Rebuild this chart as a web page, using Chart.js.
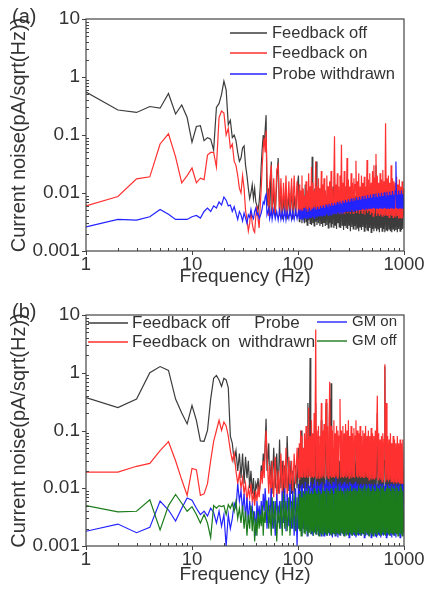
<!DOCTYPE html>
<html>
<head>
<meta charset="utf-8">
<script src="https://cdn.jsdelivr.net/npm/chart.js@4.4.1/dist/chart.umd.min.js"></script>
<style>
  body { margin: 0; background: #fff; }
  #wrap { position: relative; width: 426px; height: 596px; }
  #wrap canvas { position: absolute; left: 0; }
</style>
</head>
<body>
<div id="wrap">
  <canvas id="chart-a" width="426" height="296" style="top:0"></canvas>
  <canvas id="chart-b" width="426" height="300" style="top:296px"></canvas>
</div>
<script>
// frequency axis shared by both panels (Hz)
var freq = [
  1, 2, 3, 4, 5, 6, 7, 8, 9, 10,
  11, 12, 13, 14, 15, 16, 17, 18, 19, 20,
  21, 22, 23, 24, 25, 26, 27, 28, 29, 30,
  31, 32, 33, 34, 35, 36, 37, 38, 39, 40,
  41, 42, 43, 44, 45, 46, 47, 48, 49, 50,
  51, 53, 54, 56, 57, 59, 61, 63, 65, 67,
  69, 71, 73, 75, 77, 79, 82, 84, 87, 89,
  92, 95, 98,
  101, 103, 104, 106, 107, 109, 110, 112, 114, 115,
  117, 119, 121, 122, 124, 126, 128, 130, 132, 134,
  136, 138, 140, 142, 144, 147, 149, 151, 153, 156,
  158, 161, 163, 166, 168, 171, 173, 176, 179, 181,
  184, 187, 190, 193, 196, 199, 202, 205, 208, 211,
  214, 218, 221, 224, 228, 231, 235, 238, 242, 245,
  249, 253, 257, 261, 265, 269, 273, 277, 281, 285,
  290, 294, 299, 303, 308, 312, 317, 322, 327, 332,
  337, 342, 347, 352, 358, 363, 368, 374, 380, 385,
  391, 397, 403, 409, 415, 422, 428, 434, 441, 448,
  454, 461, 468, 475, 482, 490, 497, 505, 512, 520,
  528, 536, 544, 552, 560, 569, 577, 586, 595, 604,
  613, 622, 631, 641, 651, 660, 670, 681, 691, 701,
  712, 723, 733, 745, 756, 767, 779, 790, 802, 814,
  827, 839, 852, 865, 878, 891, 904, 918, 932, 946,
  960, 974, 989, 1000
];

var xTicks = [1, 10, 100, 1000];
var yTicks = [0.001, 0.01, 0.1, 1, 10];

// panel (a), pA/sqrt(Hz)
var offA = [
  0.55, 0.27, 0.245, 0.31, 0.29, 0.52, 0.23, 0.33, 0.2, 0.075,
  0.14, 0.145, 0.08, 0.09, 0.085, 0.055, 0.3, 0.35, 0.5, 0.85,
  0.6, 0.15, 0.18, 0.09, 0.1, 0.08, 0.05, 0.035, 0.04, 0.06,
  0.065, 0.03, 0.02, 0.012, 0.008, 0.01, 0.014, 0.008, 0.012, 0.007,
  0.006, 0.005, 0.007, 0.012, 0.03, 0.06, 0.1, 0.07, 0.12, 0.22,
  0.006, 0.012, 0.004, 0.035, 0.005, 0.01, 0.004, 0.015, 0.04, 0.004,
  0.012, 0.0035, 0.009, 0.004, 0.012, 0.0035, 0.01, 0.004, 0.013, 0.0035,
  0.009, 0.004, 0.012,
  0.02, 0.0032, 0.011, 0.004, 0.008, 0.003, 0.012, 0.0035, 0.009, 0.003,
  0.014, 0.0032, 0.007, 0.0028, 0.011, 0.0034, 0.009, 0.003, 0.013, 0.0028,
  0.042, 0.003, 0.01, 0.0027, 0.012, 0.0032, 0.035, 0.0028, 0.008, 0.003,
  0.012, 0.0027, 0.009, 0.003, 0.014, 0.0026, 0.008, 0.0031, 0.011, 0.0027,
  0.009, 0.0028, 0.013, 0.0025, 0.008, 0.003, 0.012, 0.0026, 0.01, 0.0029,
  0.013, 0.0025, 0.02, 0.0028, 0.009, 0.0024, 0.012, 0.003, 0.008, 0.0026,
  0.011, 0.0025, 0.018, 0.0028, 0.009, 0.0023, 0.013, 0.0027, 0.008, 0.0025,
  0.012, 0.0024, 0.01, 0.0028, 0.008, 0.0022, 0.013, 0.0026, 0.009, 0.0024,
  0.011, 0.0027, 0.009, 0.0023, 0.012, 0.0025, 0.008, 0.0022, 0.011, 0.0026,
  0.009, 0.0023, 0.012, 0.0026, 0.008, 0.0022, 0.011, 0.0025, 0.009, 0.0023,
  0.012, 0.0022, 0.009, 0.0025, 0.011, 0.0021, 0.008, 0.0024, 0.012, 0.0022,
  0.01, 0.0025, 0.03, 0.0022, 0.009, 0.0024, 0.012, 0.0021, 0.008, 0.0025,
  0.011, 0.0022, 0.009, 0.0024, 0.012, 0.0021, 0.014, 0.0023, 0.009, 0.0022,
  0.011, 0.0024, 0.008, 0.0022, 0.012, 0.0021, 0.009, 0.0024, 0.011, 0.0022,
  0.009, 0.0023, 0.012, 0.0021, 0.008, 0.0024, 0.011, 0.0022, 0.009, 0.0023,
  0.011, 0.0024, 0.009, 0.004
];
var onA = [
  0.006, 0.0087, 0.0175, 0.019, 0.07, 0.105, 0.042, 0.015, 0.02, 0.027,
  0.015, 0.018, 0.017, 0.045, 0.05, 0.05, 0.028, 0.2, 0.26, 0.24,
  0.1, 0.13, 0.06, 0.07, 0.035, 0.03, 0.02, 0.012, 0.01, 0.02,
  0.012, 0.005, 0.0035, 0.0022, 0.003, 0.005, 0.003, 0.0023, 0.0021, 0.004,
  0.006, 0.0035, 0.0025, 0.006, 0.012, 0.03, 0.06, 0.09, 0.05, 0.12,
  0.02, 0.004, 0.015, 0.03, 0.004, 0.018, 0.0045, 0.025, 0.03, 0.004,
  0.018, 0.004, 0.015, 0.0045, 0.02, 0.004, 0.016, 0.0045, 0.018, 0.004,
  0.02, 0.0045, 0.016,
  0.004, 0.014, 0.0045, 0.011, 0.005, 0.02, 0.0042, 0.012, 0.005, 0.009,
  0.0045, 0.016, 0.0048, 0.01, 0.0042, 0.022, 0.005, 0.013, 0.0045, 0.028,
  0.005, 0.015, 0.0045, 0.011, 0.005, 0.035, 0.0046, 0.013, 0.005, 0.018,
  0.0045, 0.012, 0.005, 0.024, 0.0044, 0.014, 0.005, 0.018, 0.0045, 0.011,
  0.005, 0.02, 0.0044, 0.013, 0.005, 0.016, 0.0045, 0.024, 0.005, 0.012,
  0.0045, 0.018, 0.095, 0.005, 0.014, 0.0044, 0.022, 0.005, 0.013, 0.0045,
  0.02, 0.005, 0.068, 0.0045, 0.015, 0.005, 0.024, 0.0044, 0.013, 0.005,
  0.04, 0.0045, 0.017, 0.005, 0.013, 0.0044, 0.022, 0.005, 0.015, 0.0045,
  0.018, 0.005, 0.014, 0.036, 0.0045, 0.016, 0.005, 0.022, 0.0044, 0.013,
  0.005, 0.02, 0.0045, 0.015, 0.005, 0.019, 0.0042, 0.013, 0.005, 0.037,
  0.0045, 0.017, 0.005, 0.022, 0.0042, 0.015, 0.0045, 0.024, 0.004, 0.03,
  0.0045, 0.018, 0.047, 0.004, 0.02, 0.0045, 0.015, 0.004, 0.022, 0.0042,
  0.017, 0.004, 0.025, 0.0042, 0.016, 0.004, 0.16, 0.0042, 0.018, 0.004,
  0.02, 0.0038, 0.015, 0.0042, 0.03, 0.004, 0.018, 0.0038, 0.016, 0.004,
  0.015, 0.0038, 0.019, 0.004, 0.014, 0.0036, 0.017, 0.0038, 0.013, 0.0036,
  0.016, 0.0037, 0.012, 0.006
];
var probeA = [
  0.0026, 0.0035, 0.0034, 0.0039, 0.0052, 0.0043, 0.0035, 0.0035, 0.0035, 0.0039,
  0.0041, 0.0037, 0.0048, 0.0055, 0.0048, 0.006, 0.0055, 0.007, 0.0062, 0.0085,
  0.0075, 0.006, 0.0062, 0.0048, 0.0058, 0.0045, 0.0035, 0.0048, 0.0042, 0.0033,
  0.0045, 0.0037, 0.003, 0.0042, 0.0038, 0.0052, 0.004, 0.0036, 0.0048, 0.0055,
  0.0042, 0.0045, 0.0036, 0.004, 0.0045, 0.0055, 0.007, 0.0065, 0.0085, 0.0095,
  0.0042, 0.0055, 0.0036, 0.005, 0.0035, 0.0052, 0.0036, 0.0048, 0.0034, 0.005,
  0.0035, 0.0048, 0.0035, 0.005, 0.0034, 0.0048, 0.0036, 0.005, 0.0035, 0.0048,
  0.0035, 0.005, 0.0036,
  0.0048, 0.0036, 0.0052, 0.004, 0.0046, 0.0035, 0.005, 0.0038, 0.0055, 0.0037,
  0.0049, 0.0036, 0.0053, 0.0039, 0.0047, 0.0036, 0.0056, 0.0038, 0.005, 0.0037,
  0.0054, 0.0039, 0.0049, 0.0037, 0.0057, 0.004, 0.0052, 0.0038, 0.0058, 0.004,
  0.0053, 0.0039, 0.006, 0.0041, 0.0055, 0.0039, 0.0062, 0.0042, 0.0056, 0.004,
  0.0063, 0.0043, 0.0058, 0.0041, 0.0065, 0.0043, 0.006, 0.0042, 0.0067, 0.0044,
  0.0061, 0.0043, 0.0068, 0.0045, 0.0063, 0.0043, 0.007, 0.0046, 0.0064, 0.0045,
  0.0072, 0.0046, 0.0066, 0.0045, 0.0074, 0.0047, 0.0068, 0.0046, 0.0076, 0.0048,
  0.0069, 0.0047, 0.0078, 0.0049, 0.0071, 0.0047, 0.008, 0.005, 0.0073, 0.0048,
  0.0082, 0.005, 0.0074, 0.0049, 0.0084, 0.0051, 0.0076, 0.005, 0.0086, 0.0052,
  0.0077, 0.0051, 0.0088, 0.0053, 0.0079, 0.0052, 0.009, 0.0054, 0.008, 0.0053,
  0.0092, 0.0054, 0.0082, 0.0053, 0.0094, 0.0055, 0.0083, 0.0054, 0.0096, 0.0055,
  0.0085, 0.0054, 0.0098, 0.0055, 0.0086, 0.0054, 0.01, 0.0055, 0.0088, 0.0054,
  0.0101, 0.0055, 0.0089, 0.0054, 0.0103, 0.0055, 0.009, 0.0054, 0.0105, 0.0055,
  0.0091, 0.0054, 0.0106, 0.0055, 0.0092, 0.0054, 0.0108, 0.0055, 0.0093, 0.0054,
  0.0109, 0.035, 0.0055, 0.0094, 0.0054, 0.011, 0.0055, 0.0095, 0.0054, 0.011,
  0.0055, 0.0096, 0.0055, 0.009
];

// panel (b), pA/sqrt(Hz)
var offB = [
  0.37, 0.25, 0.35, 1.0, 1.28, 1.1, 0.35, 0.2, 0.13, 0.27,
  0.15, 0.066, 0.065, 0.1, 0.35, 0.8, 0.9, 0.75, 0.58, 0.8,
  0.75, 0.55, 0.08, 0.06, 0.03, 0.045, 0.02, 0.04, 0.015, 0.04,
  0.012, 0.035, 0.015, 0.03, 0.01, 0.02, 0.008, 0.015, 0.006, 0.012,
  0.01, 0.015, 0.008, 0.012, 0.025, 0.015, 0.04, 0.02, 0.06, 0.16,
  0.02, 0.06, 0.012, 0.03, 0.008, 0.05, 0.01, 0.04, 0.008, 0.07,
  0.01, 0.03, 0.008, 0.025, 0.01, 0.08, 0.009, 0.03, 0.008, 0.02,
  0.008, 0.025, 0.01,
  0.05, 0.009, 0.03, 0.01, 0.1, 0.009, 0.03, 0.01, 0.04, 0.008,
  0.03, 0.01, 0.04, 0.009, 0.3, 0.01, 0.05, 1.8, 0.01, 0.04,
  0.009, 0.05, 0.008, 0.03, 0.01, 0.3, 0.009, 0.04, 0.008, 0.03,
  0.01, 0.04, 0.008, 0.15, 0.009, 0.05, 0.01, 0.03, 0.008, 0.04,
  0.3, 0.009, 0.04, 0.008, 0.03, 0.35, 0.009, 0.66, 0.01, 0.04,
  0.008, 0.05, 0.009, 0.03, 0.008, 0.04, 0.01, 0.06, 0.008, 0.03,
  0.009, 0.04, 0.008, 0.05, 0.01, 0.03, 0.008, 0.04, 0.009, 0.03,
  0.008, 0.05, 0.009, 0.03, 0.008, 0.04, 0.01, 0.03, 0.008, 0.04,
  0.009, 0.03, 0.008, 0.05, 0.009, 0.03, 0.008, 0.04, 0.007, 0.03,
  0.008, 0.04, 0.007, 0.03, 0.008, 0.03, 0.007, 0.04, 0.008, 0.025,
  0.007, 0.03, 0.008, 0.025, 0.007, 0.035, 0.006, 0.03, 0.007, 0.025,
  0.006, 0.03, 0.007, 0.025, 0.2, 0.006, 0.03, 0.007, 0.025, 0.006,
  0.03, 0.007, 0.025, 0.006, 0.03, 1.3, 0.007, 0.025, 0.006, 0.03,
  0.006, 0.025, 0.007, 0.03, 0.006, 0.02, 0.006, 0.025, 0.007, 0.02,
  0.006, 0.025, 0.006, 0.05, 0.006, 0.02, 0.006, 0.025, 0.005, 0.02,
  0.006, 0.02, 0.005, 0.015
];
var onB = [
  0.019, 0.019, 0.024, 0.027, 0.045, 0.064, 0.03, 0.014, 0.0075, 0.022,
  0.021, 0.0075, 0.008, 0.012, 0.03, 0.065, 0.1, 0.15, 0.1, 0.14,
  0.12, 0.08, 0.045, 0.03, 0.04, 0.02, 0.012, 0.018, 0.01, 0.015,
  0.008, 0.012, 0.006, 0.01, 0.007, 0.012, 0.006, 0.008, 0.005, 0.009,
  0.006, 0.01, 0.007, 0.012, 0.02, 0.012, 0.03, 0.015, 0.05, 0.1,
  0.04, 0.008, 0.025, 0.006, 0.03, 0.007, 0.035, 0.006, 0.02, 0.008,
  0.04, 0.007, 0.03, 0.008, 0.05, 0.007, 0.035, 0.01, 0.03, 0.008,
  0.04, 0.012, 0.05,
  0.015, 0.06, 0.014, 0.1, 0.016, 0.08, 0.015, 0.05, 0.016, 0.09,
  0.015, 0.12, 0.016, 0.07, 0.015, 0.25, 0.016, 0.08, 0.015, 0.15,
  0.016, 0.09, 0.015, 0.2, 0.016, 5.6, 0.015, 0.1, 0.016, 0.12,
  0.015, 0.08, 0.016, 0.3, 0.015, 0.1, 0.016, 0.13, 0.015, 0.09,
  0.35, 0.016, 0.12, 0.015, 0.09, 0.7, 0.016, 0.12, 0.015, 0.1,
  0.016, 0.15, 0.015, 0.09, 0.016, 0.12, 0.015, 0.1, 0.016, 0.08,
  0.35, 0.015, 0.1, 0.016, 0.12, 0.015, 0.09, 0.016, 0.13, 0.015,
  0.1, 0.016, 0.15, 0.015, 0.08, 0.016, 0.12, 0.015, 0.09, 0.016,
  0.11, 0.015, 0.08, 0.15, 0.016, 0.1, 0.015, 0.09, 0.016, 0.12,
  0.015, 0.08, 0.016, 0.1, 0.015, 0.09, 0.015, 0.12, 0.016, 0.08,
  0.015, 0.1, 0.014, 0.08, 0.015, 0.11, 0.014, 0.09, 0.015, 0.08,
  0.014, 0.1, 0.015, 0.08, 0.4, 0.014, 0.09, 0.015, 0.07, 0.014,
  0.08, 0.013, 0.09, 0.014, 0.07, 1.4, 0.013, 0.3, 0.014, 0.08,
  0.013, 0.07, 0.014, 0.09, 0.013, 0.06, 0.013, 0.08, 0.012, 0.07,
  0.013, 0.06, 0.012, 0.08, 0.013, 0.06, 0.012, 0.07, 0.012, 0.06,
  0.012, 0.07, 0.012, 0.02
];
var gmOnB = [
  0.0018, 0.0024, 0.0017, 0.0021, 0.006, 0.0042, 0.0027, 0.0045, 0.0068, 0.0062,
  0.0045, 0.0035, 0.004, 0.0033, 0.0045, 0.0038, 0.0025, 0.004, 0.0022, 0.0035,
  0.001, 0.0035, 0.002, 0.003, 0.0055, 0.0045, 0.012, 0.006, 0.009, 0.004,
  0.008, 0.003, 0.007, 0.0025, 0.006, 0.0035, 0.005, 0.0025, 0.004, 0.0015,
  0.006, 0.003, 0.005, 0.0025, 0.006, 0.003, 0.008, 0.004, 0.01, 0.005,
  0.002, 0.007, 0.0025, 0.01, 0.002, 0.006, 0.0015, 0.008, 0.0025, 0.006,
  0.002, 0.009, 0.0025, 0.01, 0.0018, 0.008, 0.0022, 0.012, 0.002, 0.009,
  0.0015, 0.01, 0.001,
  0.012, 0.002, 0.009, 0.0018, 0.011, 0.0015, 0.012, 0.002, 0.009, 0.0018,
  0.013, 0.002, 0.01, 0.0015, 0.012, 0.0018, 0.011, 0.002, 0.013, 0.0016,
  0.01, 0.0015, 0.012, 0.0018, 0.014, 0.0016, 0.011, 0.0018, 0.013, 0.0015,
  0.011, 0.0016, 0.012, 0.0015, 0.013, 0.0018, 0.01, 0.0015, 0.012, 0.0016,
  0.014, 0.0015, 0.011, 0.0017, 0.013, 0.0015, 0.012, 0.0016, 0.011, 0.0014,
  0.013, 0.0016, 0.012, 0.0015, 0.015, 0.0016, 0.011, 0.0014, 0.012, 0.0016,
  0.013, 0.0015, 0.011, 0.0017, 0.012, 0.0015, 0.013, 0.0016, 0.011, 0.0015,
  0.012, 0.0017, 0.011, 0.0014, 0.013, 0.0016, 0.012, 0.0015, 0.011, 0.0016,
  0.012, 0.0015, 0.013, 0.0014, 0.011, 0.0016, 0.012, 0.0015, 0.011, 0.0016,
  0.012, 0.0015, 0.011, 0.0016, 0.012, 0.0014, 0.011, 0.0015, 0.012, 0.0016,
  0.011, 0.0015, 0.012, 0.0016, 0.011, 0.0014, 0.012, 0.0015, 0.011, 0.0016,
  0.012, 0.0015, 0.011, 0.0014, 0.012, 0.0016, 0.011, 0.0015, 0.012, 0.0014,
  0.011, 0.0016, 0.012, 0.0015, 0.011, 0.0016, 0.012, 0.0014, 0.011, 0.0015,
  0.012, 0.0016, 0.011, 0.0015, 0.012, 0.0014, 0.011, 0.0016, 0.012, 0.0015,
  0.011, 0.0014, 0.012, 0.0016, 0.011, 0.0015, 0.012, 0.0014, 0.011, 0.0016,
  0.012, 0.0015, 0.011, 0.008
];
var gmOffB = [
  0.005, 0.0039, 0.004, 0.0063, 0.0019, 0.005, 0.0078, 0.0055, 0.004, 0.0048,
  0.0035, 0.0025, 0.0035, 0.0025, 0.0014, 0.005, 0.0045, 0.005, 0.0048, 0.005,
  0.0035, 0.0052, 0.0045, 0.0055, 0.004, 0.006, 0.003, 0.0045, 0.0025, 0.005,
  0.002, 0.004, 0.0015, 0.0035, 0.002, 0.005, 0.0018, 0.004, 0.0012, 0.003,
  0.0015, 0.004, 0.002, 0.0035, 0.0022, 0.005, 0.0015, 0.004, 0.0025, 0.006,
  0.006, 0.002, 0.005, 0.0015, 0.007, 0.002, 0.006, 0.0012, 0.005, 0.002,
  0.006, 0.0015, 0.008, 0.002, 0.006, 0.0018, 0.007, 0.0015, 0.006, 0.002,
  0.008, 0.0018, 0.007,
  0.002, 0.008, 0.0018, 0.009, 0.0015, 0.007, 0.002, 0.009, 0.0017, 0.008,
  0.0016, 0.009, 0.0018, 0.008, 0.0015, 0.01, 0.0017, 0.008, 0.0016, 0.009,
  0.0018, 0.008, 0.0015, 0.01, 0.0017, 0.009, 0.0016, 0.008, 0.0018, 0.01,
  0.0015, 0.009, 0.0017, 0.008, 0.0016, 0.01, 0.0015, 0.009, 0.0017, 0.008,
  0.0016, 0.01, 0.0015, 0.009, 0.0017, 0.008, 0.0016, 0.01, 0.0015, 0.009,
  0.0017, 0.008, 0.0016, 0.01, 0.0015, 0.009, 0.0017, 0.011, 0.0016, 0.009,
  0.0015, 0.01, 0.0017, 0.009, 0.0016, 0.008, 0.0015, 0.01, 0.0017, 0.009,
  0.0016, 0.01, 0.0015, 0.009, 0.0017, 0.011, 0.0016, 0.009, 0.0015, 0.01,
  0.0017, 0.009, 0.0016, 0.01, 0.0015, 0.009, 0.0017, 0.011, 0.0016, 0.01,
  0.0015, 0.009, 0.0017, 0.01, 0.0016, 0.011, 0.0015, 0.009, 0.0017, 0.01,
  0.0016, 0.011, 0.0015, 0.01, 0.0017, 0.009, 0.0016, 0.011, 0.0015, 0.01,
  0.0017, 0.009, 0.0016, 0.011, 0.0015, 0.01, 0.0017, 0.009, 0.0016, 0.011,
  0.0015, 0.01, 0.0017, 0.011, 0.0016, 0.009, 0.0015, 0.01, 0.0017, 0.011,
  0.0016, 0.01, 0.0015, 0.009, 0.0017, 0.011, 0.0016, 0.01, 0.0015, 0.009,
  0.0017, 0.011, 0.0016, 0.01, 0.0015, 0.009, 0.0017, 0.011, 0.0016, 0.01,
  0.0015, 0.009, 0.0017, 0.004
];

var FONT = '"Liberation Sans", Arial, sans-serif';
var TEXT = '#333';
var GREY = '#3c3c3c', RED = '#ff3030', BLUE = '#2323ff', GREEN = '#1c7c1c';

function pts(ys) {
  return freq.map(function (f, i) { return { x: f, y: ys[i] }; });
}

function line(label, ys, color, order) {
  return {
    label: label,
    data: pts(ys),
    borderColor: color,
    backgroundColor: color,
    borderWidth: 1.2,
    pointRadius: 0,
    tension: 0,
    order: order
  };
}

// box around the plot, outward major ticks, inward minor ticks
var boxTicks = {
  id: 'boxTicks',
  afterDraw: function (chart) {
    var ctx = chart.ctx, a = chart.chartArea;
    var x = chart.scales.x, y = chart.scales.y;
    ctx.save();
    ctx.strokeStyle = '#444';
    ctx.lineWidth = 1.2;
    ctx.strokeRect(a.left, a.top, a.right - a.left, a.bottom - a.top);
    ctx.lineWidth = 1;
    ctx.beginPath();
    [1, 10, 100].forEach(function (d) {
      for (var k = 2; k < 10; k++) {
        var px = Math.round(x.getPixelForValue(k * d)) + 0.5;
        ctx.moveTo(px, a.bottom); ctx.lineTo(px, a.bottom - 3);
      }
    });
    xTicks.forEach(function (v) {
      var px = Math.round(x.getPixelForValue(v)) + 0.5;
      ctx.moveTo(px, a.bottom); ctx.lineTo(px, a.bottom + 4);
    });
    [0.001, 0.01, 0.1, 1].forEach(function (d) {
      for (var k = 2; k < 10; k++) {
        var py = Math.round(y.getPixelForValue(k * d)) + 0.5;
        ctx.moveTo(a.left, py); ctx.lineTo(a.left + 3, py);
      }
    });
    yTicks.forEach(function (v) {
      var py = Math.round(y.getPixelForValue(v)) + 0.5;
      ctx.moveTo(a.left, py); ctx.lineTo(a.left - 4, py);
    });
    ctx.stroke();
    ctx.restore();
  }
};

function legendLine(ctx, color, x1, x2, yy) {
  ctx.strokeStyle = color;
  ctx.lineWidth = 1.4;
  ctx.beginPath();
  ctx.moveTo(x1, yy); ctx.lineTo(x2, yy);
  ctx.stroke();
}

function panelLabel(ctx, txt, yy) {
  ctx.fillStyle = TEXT;
  ctx.font = '20px ' + FONT;
  ctx.textAlign = 'left';
  ctx.textBaseline = 'middle';
  ctx.fillText(txt, 12, yy);
}

var legendA = {
  id: 'legendA',
  afterDraw: function (chart) {
    var ctx = chart.ctx, ds = chart.data.datasets;
    ctx.save();
    ctx.font = '16.5px ' + FONT;
    ctx.textAlign = 'left';
    ctx.textBaseline = 'middle';
    [[0, 33], [1, 53], [2, 74]].forEach(function (r) {
      var d = ds[r[0]];
      legendLine(ctx, d.borderColor, 230, 267, r[1]);
      ctx.fillStyle = TEXT;
      ctx.fillText(d.label, 272, r[1]);
    });
    panelLabel(ctx, '(a)', 17);
    ctx.restore();
  }
};

var legendB = {
  id: 'legendB',
  afterDraw: function (chart) {
    var ctx = chart.ctx, ds = chart.data.datasets;
    ctx.save();
    ctx.textBaseline = 'middle';
    ctx.font = '17px ' + FONT;
    ctx.textAlign = 'left';
    [[0, 27], [1, 46]].forEach(function (r) {
      var d = ds[r[0]];
      legendLine(ctx, d.borderColor, 88, 128, r[1]);
      ctx.fillStyle = TEXT;
      ctx.fillText(d.label, 132, r[1]);
    });
    ctx.textAlign = 'center';
    ctx.fillStyle = TEXT;
    ctx.fillText('Probe', 277, 27);
    ctx.fillText('withdrawn', 277, 46);
    ctx.font = '15px ' + FONT;
    ctx.textAlign = 'left';
    [[2, 26], [3, 45]].forEach(function (r) {
      var d = ds[r[0]];
      legendLine(ctx, d.borderColor, 317, 347, r[1]);
      ctx.fillStyle = TEXT;
      ctx.fillText(d.label, 352, r[1]);
    });
    panelLabel(ctx, '(b)', 16);
    ctx.restore();
  }
};

function makeOptions(xHeight, xTitlePad) {
  return {
    responsive: false,
    animation: false,
    events: [],
    layout: { padding: { left: 0, top: 19, right: 22, bottom: 0 } },
    plugins: { legend: { display: false }, tooltip: { enabled: false } },
    scales: {
      x: {
        type: 'logarithmic',
        min: 1,
        max: 1000,
        grid: { display: false, drawTicks: false },
        border: { display: false },
        afterBuildTicks: function (s) { s.ticks = xTicks.map(function (v) { return { value: v }; }); },
        afterFit: function (s) { s.height = xHeight; s.paddingLeft = 0; s.paddingRight = 0; },
        ticks: {
          color: TEXT, padding: 3, maxRotation: 0, autoSkip: false,
          font: { family: FONT, size: 18.5 },
          callback: function (v) { return String(v); }
        },
        title: {
          display: true, text: 'Frequency (Hz)', color: TEXT,
          font: { family: FONT, size: 19 },
          padding: { top: 0, bottom: xTitlePad }
        }
      },
      y: {
        type: 'logarithmic',
        min: 0.001,
        max: 10,
        grid: { display: false, drawTicks: false },
        border: { display: false },
        afterBuildTicks: function (s) { s.ticks = yTicks.map(function (v) { return { value: v }; }); },
        afterFit: function (s) { s.width = 86; s.paddingTop = 0; s.paddingBottom = 0; },
        ticks: {
          color: TEXT, padding: 6, autoSkip: false,
          font: { family: FONT, size: 19 },
          callback: function (v) { return String(v); }
        },
        title: {
          display: true, text: 'Current noise(pA/sqrt(Hz))', color: TEXT,
          font: { family: FONT, size: 20 },
          padding: { top: 7, bottom: 0 }
        }
      }
    }
  };
}

new Chart(document.getElementById('chart-a').getContext('2d'), {
  type: 'line',
  data: {
    datasets: [
      line('Feedback off', offA, GREY, 2),
      line('Feedback on', onA, RED, 1),
      line('Probe withdrawn', probeA, BLUE, 0)
    ]
  },
  options: makeOptions(45, 7.5),
  plugins: [boxTicks, legendA]
});

new Chart(document.getElementById('chart-b').getContext('2d'), {
  type: 'line',
  data: {
    datasets: [
      line('Feedback off', offB, GREY, 3),
      line('Feedback on', onB, RED, 2),
      line('GM on', gmOnB, BLUE, 1),
      line('GM off', gmOffB, GREEN, 0)
    ]
  },
  options: makeOptions(50, 10),
  plugins: [boxTicks, legendB]
});
</script>
</body>
</html>
